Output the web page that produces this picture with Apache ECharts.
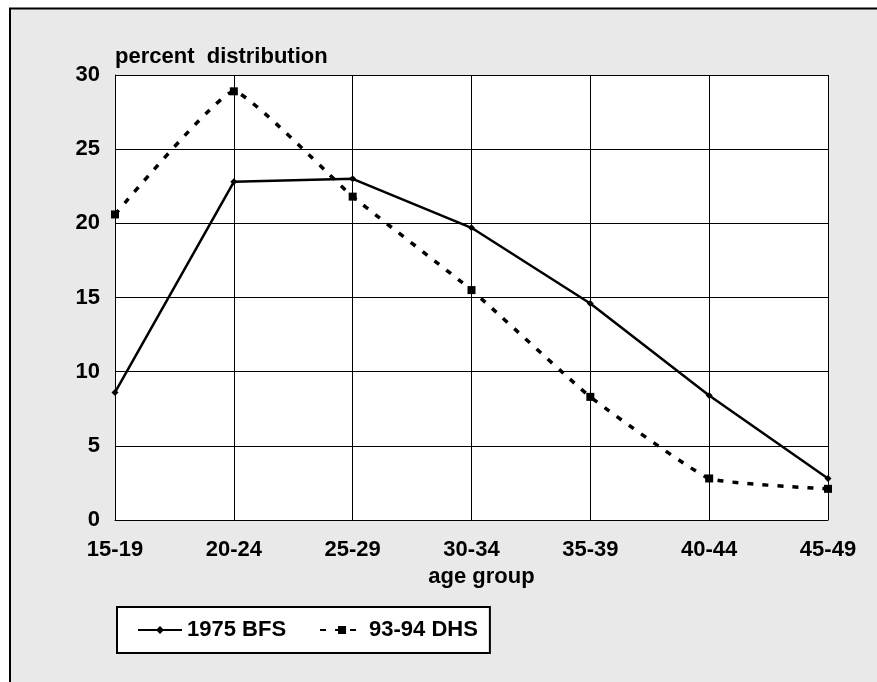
<!DOCTYPE html>
<html>
<head>
<meta charset="utf-8">
<script src="https://cdn.jsdelivr.net/npm/echarts@6/dist/echarts.min.js"></script>
<style>
html,body{margin:0;padding:0;background:#fff;}
#main{width:877px;height:682px;}
</style>
</head>
<body>
<div id="main"></div>
<script>
// age groups on the x axis
var ageGroups = ['15-19', '20-24', '25-29', '30-34', '35-39', '40-44', '45-49'];
// percent distribution
var bfs1975 = [8.6, 22.8, 23.0, 19.7, 14.6, 8.4, 2.8];
var dhs9394 = [20.6, 28.9, 21.8, 15.5, 8.3, 2.8, 2.1];
var seriesNames = ['1975 BFS', '93-94 DHS'];
var yTicks = { min: 0, max: 30, step: 5 };

var fontFam = '"Liberation Sans", Arial, sans-serif';
var chart = echarts.init(document.getElementById('main'));

var option = {
	animation: false,
	backgroundColor: '#fff',
	graphic: [{
		type: 'rect',
		z: -10,
		shape: { x: 10, y: 8.5, width: 900, height: 700 },
		style: { fill: '#e9e9e9', stroke: '#000', lineWidth: 2 }
	}],
	grid: {
		left: 115, right: 49, top: 75, bottom: 162,
		show: true, backgroundColor: '#fff', borderWidth: 0
	},
	legend: {
		left: 117, top: 607,
		backgroundColor: '#fff',
		borderColor: '#000', borderWidth: 2,
		padding: [12, 12, 12, 20],
		itemWidth: 44, itemHeight: 10, itemGap: 33,
		textStyle: { fontSize: 22, fontWeight: 'bold', color: '#000', fontFamily: fontFam },
		data: seriesNames
	},
	xAxis: {
		type: 'category',
		data: ageGroups,
		boundaryGap: false,
		name: 'age group',
		nameLocation: 'middle',
		nameGap: 45,
		nameTextStyle: { fontSize: 22, fontWeight: 'bold', color: '#000', fontFamily: fontFam, padding: [0, 0, 0, 20] },
		axisLine: { lineStyle: { color: '#000', width: 1 } },
		axisTick: { show: false },
		axisLabel: { margin: 19, fontSize: 22, fontWeight: 'bold', color: '#000', fontFamily: fontFam },
		splitLine: { show: true, lineStyle: { color: '#000', width: 1 } }
	},
	yAxis: {
		type: 'value',
		min: yTicks.min, max: yTicks.max, interval: yTicks.step,
		name: 'percent  distribution',
		nameLocation: 'end',
		nameGap: 7,
		nameTextStyle: { align: 'left', fontSize: 22, fontWeight: 'bold', color: '#000', fontFamily: fontFam },
		axisLine: { show: true, lineStyle: { color: '#000', width: 1 } },
		axisTick: { show: false },
		axisLabel: { margin: 15, fontSize: 22, fontWeight: 'bold', color: '#000', fontFamily: fontFam, padding: [5, 0, 0, 0] },
		splitLine: { show: true, lineStyle: { color: '#000', width: 1 } }
	},
	series: [{
		name: seriesNames[0],
		type: 'line',
		data: bfs1975,
		symbol: 'diamond',
		symbolSize: 7,
		lineStyle: { color: '#000', width: 2.5 },
		itemStyle: { color: '#000' }
	}, {
		name: seriesNames[1],
		type: 'line',
		data: dhs9394,
		smooth: 0.12,
		symbol: 'rect',
		symbolSize: 8,
		lineStyle: { color: '#000', width: 3.5, type: [6, 9] },
		itemStyle: { color: '#000' }
	}]
};
chart.setOption(option);
</script>
</body>
</html>
